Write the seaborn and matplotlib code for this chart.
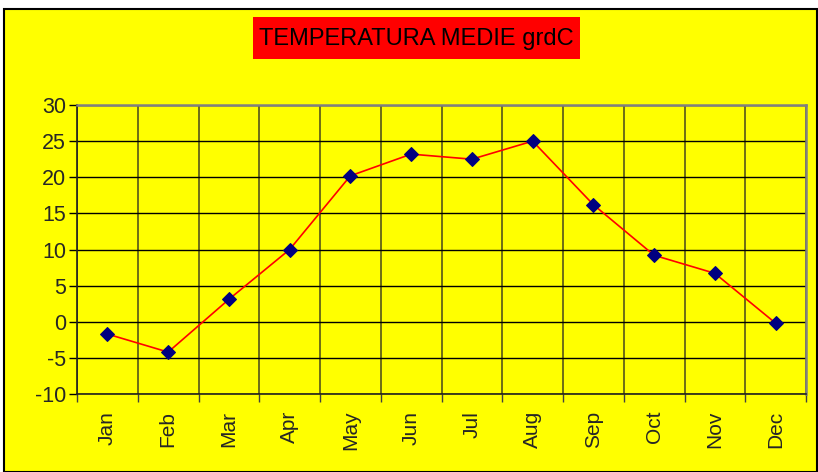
import matplotlib
matplotlib.use("Agg")
import matplotlib.pyplot as plt
from matplotlib.patches import Rectangle
from matplotlib.ticker import FixedLocator
import seaborn as sns
import pandas as pd

months = ['Jan', 'Feb', 'Mar', 'Apr', 'May', 'Jun',
          'Jul', 'Aug', 'Sep', 'Oct', 'Nov', 'Dec']
temps = [-1.7, -4.2, 3.1, 10.0, 20.2, 23.2, 22.5, 25.0, 16.2, 9.2, 6.7, -0.2]
y_ticks = [-10, -5, 0, 5, 10, 15, 20, 25, 30]
title = 'TEMPERATURA MEDIE grdC'

df = pd.DataFrame({'Luna': months, 'Temp': temps})

sns.set_style('white')
plt.rcParams['font.family'] = ['Liberation Sans', 'DejaVu Sans']
plt.rcParams['axes.unicode_minus'] = False

W, H = 818, 472
fig = plt.figure(figsize=(W / 100, H / 100), dpi=100)
fig.patch.set_facecolor('white')

# yellow chart frame
fig.patches.append(Rectangle((4 / W, 0), 813 / W, (H - 9) / H,
                             transform=fig.transFigure, facecolor='#ffff00',
                             edgecolor='black', linewidth=1.5, zorder=-2))
# red title box
fig.patches.append(Rectangle((253 / W, (H - 59) / H), 327 / W, 42 / H,
                             transform=fig.transFigure, facecolor='#ff0000',
                             edgecolor='none', zorder=-1))
fig.text(416 / W, (H - 38.5) / H, title, ha='center', va='center',
         fontsize=17, color='black', zorder=2)

ax = fig.add_axes([77 / W, (H - 394) / H, (806 - 77) / W, (394 - 105) / H])
ax.set_facecolor('#ffff00')
ax.set_zorder(1)

sns.lineplot(data=df, x='Luna', y='Temp', sort=False, ax=ax, color='#ff0000',
             linewidth=1.2, marker='D', markersize=7.5,
             markerfacecolor='#000080', markeredgecolor='#000080', zorder=3)

ax.set_xlim(-0.5, len(months) - 0.5)
ax.set_ylim(-10, 30)
ax.set_yticks(y_ticks)
ax.set_xticks(range(len(months)))
ax.set_xticklabels(months, rotation=90)
ax.xaxis.set_minor_locator(FixedLocator([i + 0.5 for i in range(-1, len(months))]))

ax.tick_params(axis='x', which='major', length=0, pad=12, labelsize=15)
ax.tick_params(axis='x', which='minor', length=6, width=1, color='#404040',
               direction='out', bottom=True)
ax.tick_params(axis='y', which='major', length=6, width=1, color='black',
               direction='out', left=True, labelsize=15.5, pad=2)

ax.grid(axis='y', which='major', color='black', linewidth=1)
ax.grid(axis='x', which='minor', color='#55551a', linewidth=1.2)
ax.grid(axis='x', which='major', visible=False)
ax.set_axisbelow(True)

for s in ['left', 'bottom']:
    ax.spines[s].set_color('#202020')
    ax.spines[s].set_linewidth(1.2)
for s in ['top', 'right']:
    ax.spines[s].set_color('#808080')
    ax.spines[s].set_linewidth(1.8)

ax.set_xlabel('')
ax.set_ylabel('')

fig.savefig('out.png', dpi=100, facecolor=fig.get_facecolor())
